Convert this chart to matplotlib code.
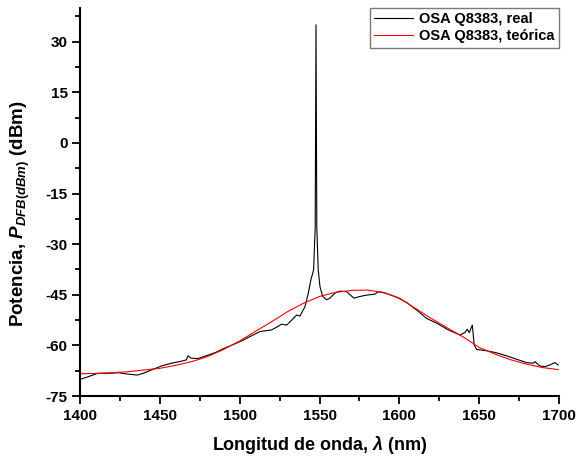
"""Plot DFB laser spectrum measured on the OSA against the theoretical curve."""

import matplotlib
matplotlib.use('Agg')
import matplotlib.pyplot as plt
from matplotlib.ticker import MultipleLocator


# measured spectrum (nm, dBm)
REAL_WL = [1400, 1405, 1411, 1417.5, 1424, 1430, 1436, 1440.5, 1444.7, 1451,
           1457.2, 1463.4, 1466.6, 1467.6, 1469.7, 1473.9, 1480.1, 1485.4,
           1488.7, 1500.2, 1506.4, 1512.7, 1520, 1523.2, 1526.3, 1529.4,
           1532.6, 1535.7, 1537.8, 1540.9, 1543, 1544.6, 1546.3, 1547.3,
           1547.8, 1548.3, 1549.2, 1550.3, 1552, 1554.5, 1556.5, 1559.7,
           1562.8, 1567, 1571.6, 1575.3, 1579.5, 1584.7, 1586.8, 1592,
           1598.3, 1604.6, 1610.8, 1617.1, 1623.4, 1630.6, 1637.9, 1641.1,
           1642.5, 1643.8, 1645.7, 1646.3, 1646.9, 1648.4, 1654.7, 1660.9,
           1667.2, 1673.4, 1679.7, 1683.9, 1684.9, 1688, 1691.2, 1694.3,
           1697.4, 1699.5]
REAL_P = [-70.1, -69.3, -68.3, -68.3, -68.1, -68.5, -68.8, -68.1, -67.3, -66.1,
          -65.3, -64.7, -64.3, -63.1, -63.8, -63.9, -62.9, -62.0,
          -61.2, -58.9, -57.4, -55.9, -55.4, -54.6, -53.7, -54.0,
          -52.5, -51.0, -51.3, -48.5, -44.5, -40.6, -37.6, -25.0,
          35.0, -25.0, -37.6, -42.6, -45.5, -46.5, -46.0, -44.5,
          -43.9, -44.1, -46.0, -45.5, -45.1, -44.8, -44.1, -44.6,
          -45.7, -47.3, -49.5, -52.0, -53.4, -55.4, -56.9, -56.2,
          -55.2, -56.2, -54.0, -56.9, -59.9, -61.2, -61.6, -62.2,
          -63.1, -64.1, -65.1, -65.3, -64.8, -66.1, -66.3, -65.8,
          -65.1, -65.8]

# theoretical spectrum (nm, dBm)
THEO_WL = list(range(1400, 1701, 10))
THEO_P = [-68.4, -68.3, -68.1, -67.8, -67.3, -66.8, -65.9, -64.8, -63.3, -61.2,
          -58.7, -55.8, -53.0, -50.0, -47.5, -45.5, -44.3, -43.7, -43.6, -44.3,
          -46.0, -49.0, -52.0, -54.8, -57.5, -60.6, -62.6, -64.3, -65.6, -66.6,
          -67.2]


def main():
    """Main program called during execution."""

    plt.rcParams['font.family'] = ['Liberation Sans', 'DejaVu Sans']
    plt.rcParams['font.weight'] = 'bold'
    plt.rcParams['axes.unicode_minus'] = False
    plt.rcParams['mathtext.fontset'] = 'custom'
    plt.rcParams['mathtext.rm'] = 'Liberation Sans:bold'
    plt.rcParams['mathtext.it'] = 'Liberation Sans:italic:bold'
    plt.rcParams['mathtext.bf'] = 'Liberation Sans:bold'

    # initialize figure
    fig = plt.figure(figsize=(5.79, 4.61), dpi=100)
    ax = fig.add_axes([80/579, 1-396/461, 479/579, 388/461])

    # curves
    ax.plot(REAL_WL, REAL_P, color='black', lw=0.8,
            label='OSA Q8383, real')
    ax.plot(THEO_WL, THEO_P, color='red', lw=0.8,
            label='OSA Q8383, teórica')

    # axes
    ax.set_xlim(1400, 1700)
    ax.set_ylim(-75, 40)
    ax.xaxis.set_major_locator(MultipleLocator(50))
    ax.xaxis.set_minor_locator(MultipleLocator(25))
    ax.set_yticks(range(-75, 31, 15))
    ax.yaxis.set_minor_locator(MultipleLocator(7.5))
    for side in ('top', 'right'):
        ax.spines[side].set_visible(False)
    for side in ('left', 'bottom'):
        ax.spines[side].set_linewidth(1.5)
    ax.tick_params(which='major', direction='out', length=6, width=1.3,
                   labelsize=11, pad=3)
    ax.tick_params(which='minor', direction='out', length=3.5, width=1.3)

    ax.set_xlabel(r'Longitud de onda, $\lambda$ (nm)', fontsize=13,
                  fontweight='bold', labelpad=8)
    ax.set_ylabel(r'Potencia, $P_{DFB(dBm)}$ (dBm)', fontsize=13.5,
                  fontweight='bold')
    ax.yaxis.set_label_coords(-0.10, 0.47)

    # legend
    leg = ax.legend(loc='upper right', fontsize=10.5, fancybox=False,
                    frameon=True, borderaxespad=0, handlelength=2.7,
                    handletextpad=0.4, borderpad=0.3, labelspacing=0.2)
    leg.get_frame().set_edgecolor('0.35')
    leg.get_frame().set_linewidth(1.0)

    # save
    fig.savefig('out.png', dpi=100)


if __name__ == '__main__':
    main()
